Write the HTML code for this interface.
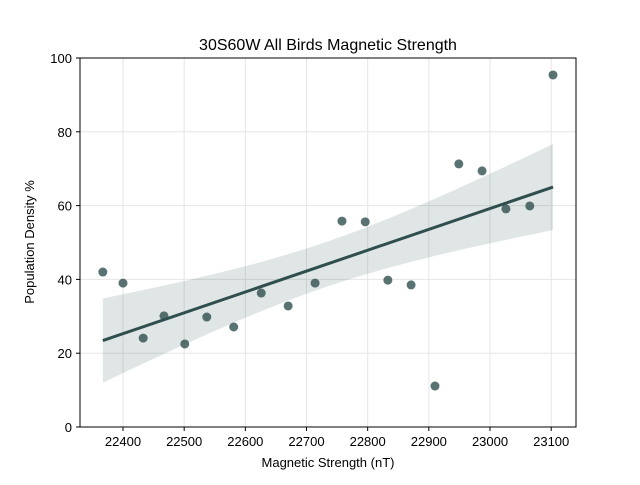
<!DOCTYPE html>
<html><head><meta charset="utf-8"><style>
body{margin:0;background:#fff;}
svg text{font-family:"Liberation Sans",sans-serif;fill:#000;}
</style></head><body>
<svg id="chart" width="640" height="480" viewBox="0 0 640 480">
<rect width="640" height="480" fill="#fff"/>
<g id="grid"></g><g id="band"></g><g id="pts"></g><g id="line"></g><g id="axes"></g>
<text x="328" y="50" font-size="16" text-anchor="middle">30S60W All Birds Magnetic Strength</text>
<text x="328" y="467" font-size="13" text-anchor="middle">Magnetic Strength (nT)</text>
<text x="34" y="242" font-size="13" text-anchor="middle" transform="rotate(-90 34 242)">Population Density %</text>
</svg>
<script>
const xValues=[22367,22400,22433,22467,22501,22537,22581,22626,22670,22714,22758,22796,22833,22871,22910,22949,22987,23026,23065,23103];
const yValues=[42.0,39.0,24.1,30.1,22.5,29.8,27.1,36.3,32.8,39.0,55.8,55.6,39.8,38.5,11.1,71.3,69.4,59.1,59.9,95.4];
const xTicks=[22400,22500,22600,22700,22800,22900,23000,23100];
const yTicks=[0,20,40,60,80,100];
const L=80,R=576,T=58,B=427;
const X=v=>123+(v-22400)*0.6117;
const Y=v=>B-(v-0)*(B-T)/100;
const NS="http://www.w3.org/2000/svg";
function mk(tag,attrs,parent){const e=document.createElementNS(NS,tag);for(const k in attrs)e.setAttribute(k,attrs[k]);document.getElementById(parent).appendChild(e);return e;}
xTicks.forEach(t=>{const l=mk('line',{x1:X(t),x2:X(t),y1:T,y2:B,stroke:'#e6e6e6','stroke-width':1},'grid');


const k=mk('line',{x1:X(t),x2:X(t),y1:B,y2:B+4,stroke:'#000'},'axes');


const s=mk('text',{x:X(t),y:B+19,'font-size':13,'text-anchor':'middle'},'axes');s.textContent=t;

});
yTicks.forEach(t=>{const l=mk('line',{x1:L,x2:R,y1:Y(t),y2:Y(t),stroke:'#e6e6e6','stroke-width':1},'grid');


const k=mk('line',{x1:L-4,x2:L,y1:Y(t),y2:Y(t),stroke:'#000'},'axes');


const s=mk('text',{x:L-8,y:Y(t)+5,'font-size':13,'text-anchor':'end'},'axes');s.textContent=t;

});
const fr=mk('rect',{x:L,y:T,width:R-L,height:B-T,fill:'none',stroke:'#000','stroke-width':1},'axes');


const n=xValues.length,mx=xValues.reduce((a,b)=>a+b)/n,my=yValues.reduce((a,b)=>a+b)/n;
let sxx=0,sxy=0;xValues.forEach((x,i)=>{sxx+=(x-mx)**2;sxy+=(x-mx)*(yValues[i]-my);});
const b=sxy/sxx,a=my-b*mx;let sse=0;xValues.forEach((x,i)=>{sse+=(yValues[i]-a-b*x)**2;});
const s=Math.sqrt(sse/(n-2)),tq=1.75;
const x0=Math.min(...xValues),x1=Math.max(...xValues);
let up=[],lo=[];
for(let i=0;i<=50;i++){const x=x0+(x1-x0)*i/50,yh=a+b*x,se=tq*s*Math.sqrt(1/n+(x-mx)**2/sxx);
up.push(X(x)+','+Y(yh+se));lo.unshift(X(x)+','+Y(yh-se));}
const band=mk('polygon',{points:up.concat(lo).join(' '),fill:'#2f4f4f','fill-opacity':0.15},'band');


const rl=mk('line',{x1:X(x0),y1:Y(a+b*x0),x2:X(x1),y2:Y(a+b*x1),stroke:'#2f4f4f','stroke-width':3},'line');


xValues.forEach((x,i)=>{const c=mk('circle',{cx:X(x),cy:Y(yValues[i]),r:4.5,fill:'#2f4f4f','fill-opacity':0.8},'pts');

});
</script>
</body></html>
